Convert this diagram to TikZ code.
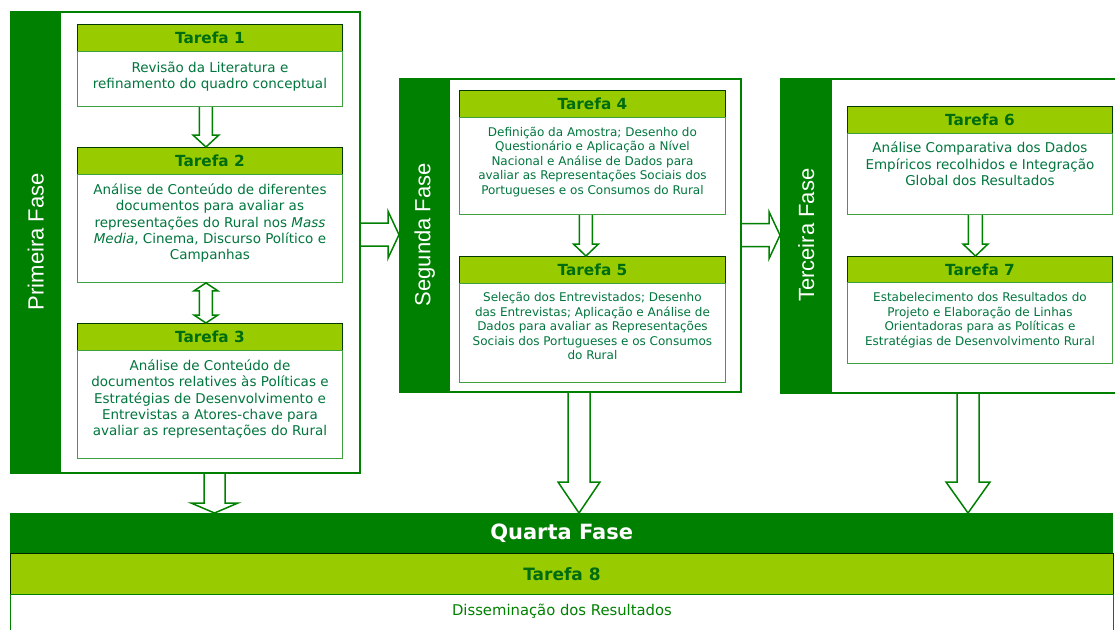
\documentclass[tikz,border=0pt]{standalone}
\usepackage{fontspec}
\setmainfont{DejaVu Sans}
\newfontfamily\phasefont{Liberation Sans}
\usetikzlibrary{calc}
\definecolor{dkgreen}{RGB}{0,128,0}
\definecolor{ltgreen}{RGB}{153,204,0}
\definecolor{txtgreen}{RGB}{0,118,62}
\definecolor{hdgreen}{RGB}{0,108,16}
\newcommand\varrow[5]{\draw[hollow] let \p1=(#1), \p2=(#2) in
  (\x1-#3pt,\y1) -- (\x1-#3pt,\y2+#5pt) -- (\x1-#4pt,\y2+#5pt) -- (\x1,\y2)
  -- (\x1+#4pt,\y2+#5pt) -- (\x1+#3pt,\y2+#5pt) -- (\x1+#3pt,\y1);}
\newcommand\harrow[5]{\draw[hollow] let \p1=(#1), \p2=(#2) in
  (\x1,\y1+#3pt) -- (\x2-#5pt,\y1+#3pt) -- (\x2-#5pt,\y1+#4pt) -- (\x2,\y1)
  -- (\x2-#5pt,\y1-#4pt) -- (\x2-#5pt,\y1-#3pt) -- (\x1,\y1-#3pt);}
\newcommand\darrow[5]{\draw[hollow] let \p1=(#1), \p2=(#2) in
  (\x1,\y1) -- (\x1-#4pt,\y1-#5pt) -- (\x1-#3pt,\y1-#5pt) -- (\x1-#3pt,\y2+#5pt)
  -- (\x1-#4pt,\y2+#5pt) -- (\x1,\y2) -- (\x1+#4pt,\y2+#5pt) -- (\x1+#3pt,\y2+#5pt)
  -- (\x1+#3pt,\y1-#5pt) -- (\x1+#4pt,\y1-#5pt) -- cycle;}
\begin{document}
\begin{tikzpicture}[x=1pt,y=-1pt,
  phasebox/.style={draw=dkgreen, line width=2pt, fill=white, anchor=north west, inner sep=0},
  strip/.style={fill=dkgreen, anchor=north west, inner sep=0},
  phaselabel/.style={rotate=90, text=white, font=\phasefont\fontsize{22}{24}\selectfont},
  hdr/.style={draw=black!55!dkgreen, line width=0.9pt, fill=ltgreen, anchor=north west, inner sep=0,
    minimum height=27pt, minimum width=265pt, font=\fontsize{15.3}{17}\selectfont\bfseries, text=hdgreen},
  body/.style={draw=dkgreen!75, line width=0.9pt, fill=white, anchor=north west, inner sep=0, minimum width=265pt},
  txtA/.style={anchor=north, inner sep=0, align=center, text=txtgreen, font=\fontsize{13.5}{16.4}\selectfont},
  txtB/.style={anchor=north, inner sep=0, align=center, text=txtgreen, font=\fontsize{12}{14.5}\selectfont},
  hollow/.style={draw=dkgreen, line width=1.5pt, fill=white, line join=miter}]
\useasboundingbox (0,0) rectangle (1115,629);
\clip (0,0) rectangle (1115,629);
\fill[white] (0,0) rectangle (1115,629);

% ---- Primeira Fase
\node[phasebox, minimum width=349pt, minimum height=461pt] (p1) at (10,11) {};
\node[strip, minimum width=51pt, minimum height=461pt] (s1) at (10,11) {};
\node[phaselabel] (l1) at (s1.center) {Primeira Fase};

\node[hdr] (h1) at (77,24) {Tarefa 1};
\node[body, minimum height=55pt] (b1) at (77,51) {};
\node[txtA] (x1) at ($(b1.north)+(0,7.8)$) {\rule{0pt}{13.5pt}Revisão da Literatura e\\refinamento do quadro conceptual};

\node[hdr] (h2) at (77,147) {Tarefa 2};
\node[body, minimum height=108pt] (b2) at (77,174) {};
\node[txtA] (x2) at ($(b2.north)+(0,6.5)$) {\rule{0pt}{13.5pt}Análise de Conteúdo de diferentes\\documentos para avaliar as\\representações do Rural nos \textit{Mass}\\\textit{Media}, Cinema, Discurso Político e\\Campanhas};

\node[hdr] (h3) at (77,323) {Tarefa 3};
\node[body, minimum height=108pt] (b3) at (77,350) {};
\node[txtA] (x3) at ($(b3.north)+(0,6.5)$) {\rule{0pt}{13.5pt}Análise de Conteúdo de\\documentos relatives às Políticas e\\Estratégias de Desenvolvimento e\\Entrevistas a Atores-chave para\\avaliar as representações do Rural};

% ---- Segunda Fase
\node[phasebox, minimum width=341pt, minimum height=313pt] (p2) at (399,78) {};
\node[strip, minimum width=51pt, minimum height=313pt] (s2) at (399,78) {};
\node[phaselabel] (l2) at (s2.center) {Segunda Fase};

\node[hdr, minimum width=266pt] (h4) at (459,90) {Tarefa 4};
\node[body, minimum width=266pt, minimum height=97pt] (b4) at (459,117) {};
\node[txtB] (x4) at ($(b4.north)+(0,7)$) {\rule{0pt}{12pt}Definição da Amostra; Desenho do\\Questionário e Aplicação a Nível\\Nacional e Análise de Dados para\\avaliar as Representações Sociais dos\\Portugueses e os Consumos do Rural};

\node[hdr, minimum width=266pt] (h5) at (459,256) {Tarefa 5};
\node[body, minimum width=266pt, minimum height=99pt] (b5) at (459,283) {};
\node[txtB] (x5) at ($(b5.north)+(0,6.7)$) {\rule{0pt}{12pt}Seleção dos Entrevistados; Desenho\\das Entrevistas; Aplicação e Análise de\\Dados para avaliar as Representações\\Sociais dos Portugueses e os Consumos\\do Rural};

% ---- Terceira Fase
\node[phasebox, minimum width=345pt, minimum height=314pt] (p3) at (780,78) {};
\node[strip, minimum width=52pt, minimum height=314pt] (s3) at (780,78) {};
\node[phaselabel] (l3) at (s3.center) {Terceira Fase};

\node[hdr] (h6) at (847,106) {Tarefa 6};
\node[body, minimum height=81pt] (b6) at (847,133) {};
\node[txtA] (x6) at ($(b6.north)+(0,6.2)$) {\rule{0pt}{13.5pt}Análise Comparativa dos Dados\\Empíricos recolhidos e Integração\\Global dos Resultados};

\node[hdr, minimum height=26pt] (h7) at (847,256) {Tarefa 7};
\node[body, minimum height=81pt] (b7) at (847,282) {};
\node[txtB] (x7) at ($(b7.north)+(0,7.7)$) {\rule{0pt}{12pt}Estabelecimento dos Resultados do\\Projeto e Elaboração de Linhas\\Orientadoras para as Políticas e\\Estratégias de Desenvolvimento Rural};

% ---- Quarta Fase
\node[fill=dkgreen, anchor=north west, inner sep=0, minimum width=1103pt, minimum height=40pt,
  text=white, font=\fontsize{21}{24}\selectfont\bfseries] (q) at (10,513) {Quarta Fase};
\node[fill=ltgreen, draw=black!70!dkgreen, line width=0.9pt, anchor=north west, inner sep=0,
  minimum width=1103pt, minimum height=41pt, text=hdgreen, font=\fontsize{17}{19}\selectfont\bfseries] (h8) at (10,553) {Tarefa 8};
\node[draw=dkgreen, fill=white, line width=0.9pt, anchor=north west, inner sep=0,
  minimum width=1103pt, minimum height=50pt] (b8) at (10,594) {};
\node[text=dkgreen, font=\fontsize{14.8}{16}\selectfont, inner sep=0] (x8) at ($(b8.north)+(0,17)$) {Disseminação dos Resultados};

% ---- arrows
\varrow{$(b1.south)+(-4,0)$}{$(h2.north)+(-4,0)$}{6.5}{13}{12}
\darrow{$(b2.south)+(-4,0)$}{$(h3.north)+(-4,0)$}{6.5}{12}{8}
\varrow{$(b4.south)+(-6.5,0)$}{$(h5.north)+(-6.5,0)$}{6.5}{12.5}{12}
\varrow{$(b6.south)+(-4.5,0)$}{$(h7.north)+(-4.5,0)$}{7}{12.5}{12}
\harrow{p1.east |- s2.west}{s2.west}{11.5}{23.5}{11}
\harrow{p2.east |- s3.west}{s3.west}{11.5}{23.5}{11}
\varrow{$(p1.south)+(29,0)$}{$(q.north -| p1.south)+(29,0)$}{10.5}{23.5}{10}
\varrow{$(p2.south)+(8.5,0)$}{$(q.north -| p2.south)+(8.5,0)$}{11}{21}{31}
\varrow{$(p3.south)+(14.5,0)$}{$(q.north -| p3.south)+(14.5,0)$}{11}{22}{31}
\end{tikzpicture}
\end{document}
